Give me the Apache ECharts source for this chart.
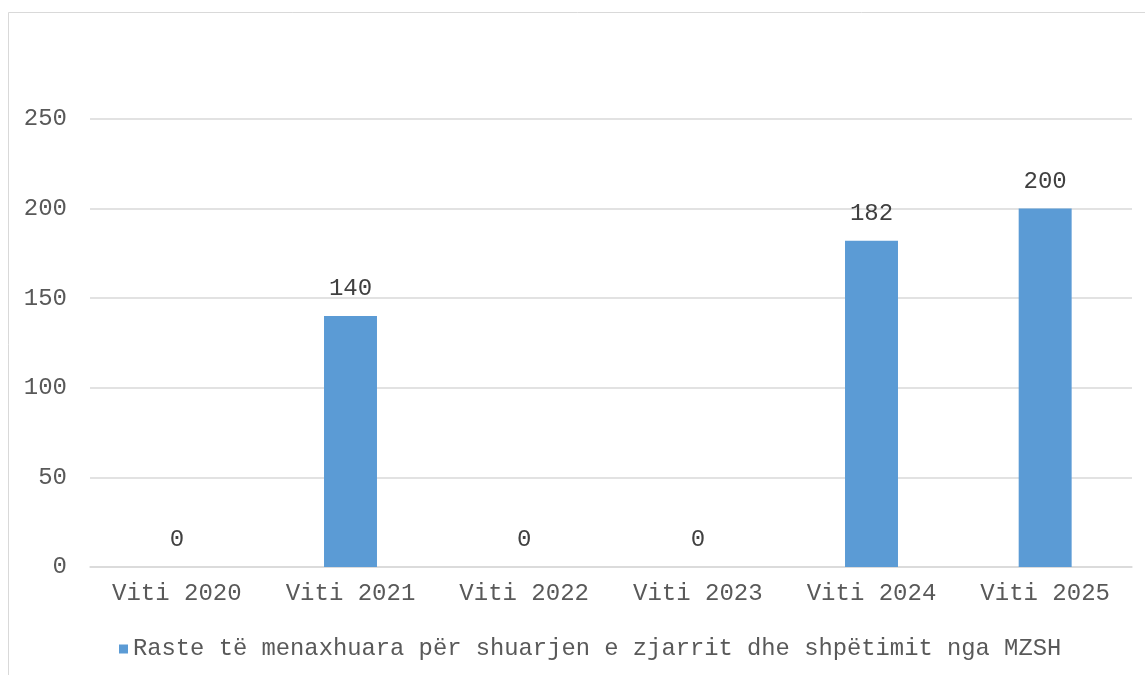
<!DOCTYPE html>
<html>
<head>
<meta charset="utf-8">
<script src="https://cdn.jsdelivr.net/npm/echarts@6/dist/echarts.min.js"></script>
<style>
html,body{margin:0;padding:0;background:#fff;}
#main{width:1145px;height:675px;}
</style>
</head>
<body>
<div id="main"></div>
<script>
const categories = ["Viti 2020", "Viti 2021", "Viti 2022", "Viti 2023", "Viti 2024", "Viti 2025"];
const seriesName = "Raste të menaxhuara për shuarjen e zjarrit dhe shpëtimit nga MZSH";
const values = [0, 140, 0, 0, 182, 200];

const FONT = "'Liberation Mono', 'Courier New', monospace";
const chart = echarts.init(document.getElementById('main'), null, {renderer: 'canvas'});
chart.setOption({
  animation: false,
  backgroundColor: '#ffffff',
  graphic: [{
    type: 'rect',
    shape: {x: 8.5, y: 12.5, width: 1300, height: 800},
    style: {fill: 'none', stroke: '#d9d9d9', lineWidth: 1},
    silent: true, z: -10
  }],
  grid: {left: 90, right: 13, top: 119, bottom: 108, containLabel: false},
  legend: {
    show: true,
    left: 114, top: 632,
    itemWidth: 9, itemHeight: 9,
    icon: 'rect',
    textStyle: {fontFamily: FONT, fontSize: 23.8, color: '#595959'},
    data: [seriesName]
  },
  xAxis: {
    type: 'category',
    data: categories,
    axisLine: {show: true, lineStyle: {color: '#d9d9d9', width: 1.5}},
    axisTick: {show: false},
    axisLabel: {fontFamily: FONT, fontSize: 24, color: '#595959', margin: 15}
  },
  yAxis: {
    type: 'value',
    min: 0, max: 250, interval: 50,
    axisLine: {show: false},
    axisTick: {show: false},
    splitLine: {lineStyle: {color: '#d9d9d9', width: 1.5}},
    axisLabel: {fontFamily: FONT, fontSize: 24, color: '#595959', margin: 23}
  },
  series: [{
    name: seriesName,
    type: 'bar',
    data: values,
    barWidth: '30.5%',
    itemStyle: {color: '#5b9bd5'},
    label: {show: true, position: 'top', distance: 15, fontFamily: FONT, fontSize: 24, color: '#404040'}
  }]
});
</script>
</body>
</html>
